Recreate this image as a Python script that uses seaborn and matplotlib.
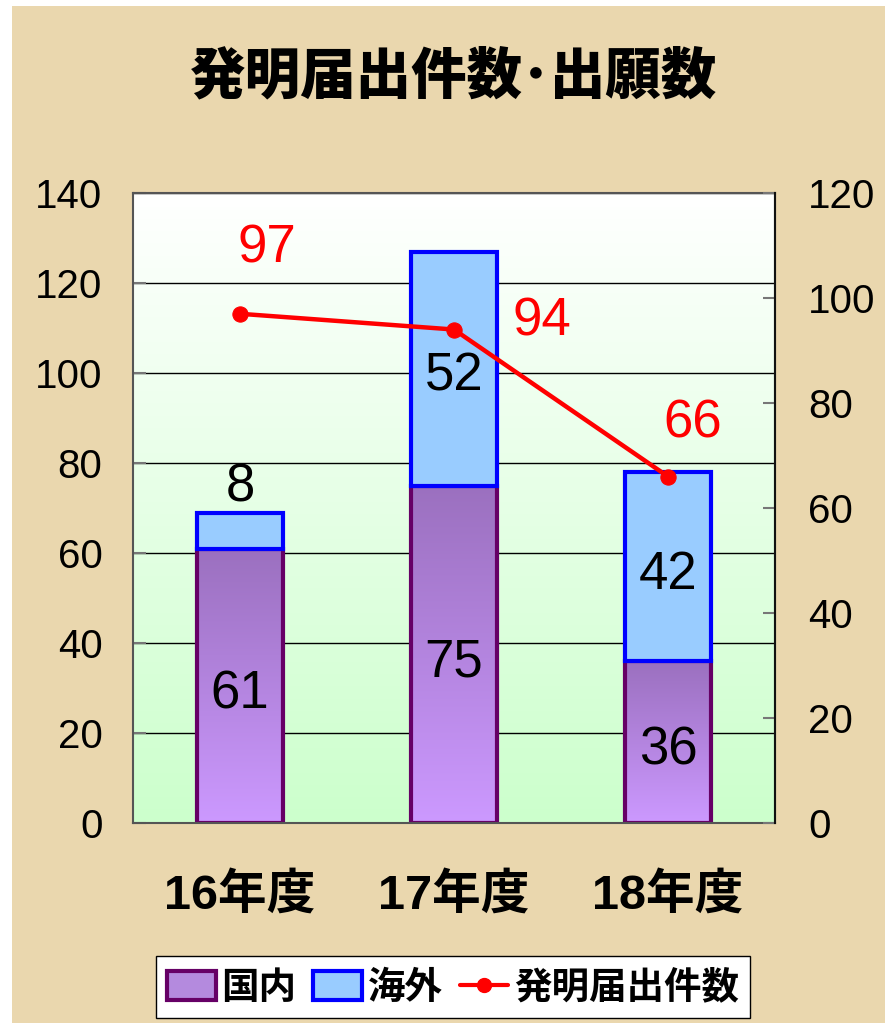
import numpy as np
import matplotlib.pyplot as plt
import seaborn as sns
from matplotlib.patches import Patch, Rectangle
from matplotlib.lines import Line2D
from matplotlib.colors import LinearSegmentedColormap

# data
years = ["16年度", "17年度", "18年度"]
domestic = [61, 75, 36]      # 国内
overseas = [8, 52, 42]       # 海外
filings = [97, 94, 66]       # 発明届出件数 (right axis)
left_ticks = [0, 20, 40, 60, 80, 100, 120, 140]
right_ticks = [0, 20, 40, 60, 80, 100, 120]

sns.set_style("white")
plt.rcParams['font.family'] = ['Liberation Sans', 'Noto Sans CJK JP']
plt.rcParams['text.color'] = 'black'
plt.rcParams['xtick.color'] = 'black'
plt.rcParams['ytick.color'] = 'black'
cjk = ['Noto Sans CJK JP']

fig = plt.figure(figsize=(8.85, 10.23), dpi=100, facecolor='white')
# parchment-like backdrop
fig.patches.append(Rectangle((12 / 885, 0), 1, 1 - 6 / 1023, transform=fig.transFigure,
                             facecolor='#ead7ae', edgecolor='none', zorder=-10))

ax = fig.add_axes([0.1503, 0.1955, 0.7254, 0.6158])
grad = np.linspace(0, 1, 256).reshape(-1, 1)
bg_cmap = LinearSegmentedColormap.from_list('bg', ['#ffffff', '#ccffcc'])
ax.imshow(grad, cmap=bg_cmap, extent=(0, 1, 0, 1), transform=ax.transAxes,
          aspect='auto', origin='upper', zorder=0)

# domestic bars (gradient fill)
sns.barplot(x=years, y=domestic, ax=ax, width=0.4, color='#b48ade', saturation=1,
            edgecolor='#660066', linewidth=3, zorder=2)
bar_cmap = LinearSegmentedColormap.from_list('bar', ['#9b70bf', '#cc99ff'])
for p in list(ax.patches):
    x0, y0, w, h = p.get_x(), p.get_y(), p.get_width(), p.get_height()
    im = ax.imshow(grad, cmap=bar_cmap, extent=(x0, x0 + w, y0, y0 + h),
                   aspect='auto', origin='upper', zorder=2.1)
    im.set_clip_path(p)
    p.set_facecolor('none')
    p.set_zorder(2.2)

# overseas bars stacked on top
pos = np.arange(len(years))
ax.bar(pos, overseas, bottom=domestic, width=0.4, color='#99ccff',
       edgecolor='#0000ff', linewidth=3, zorder=3)

ax.set_xlim(-0.5, 2.5)
ax.set_ylim(0, 140)
ax.set_yticks(left_ticks)
ax.yaxis.grid(True, color='black', lw=1)
ax.xaxis.grid(False)
ax.set_axisbelow(True)
ax.tick_params(axis='y', direction='in', length=9, width=1.5, color='#777',
               labelcolor='black', labelsize=29, pad=22, left=True)
ax.set_xticks(pos)
ax.set_xticklabels(years, fontsize=35, fontweight='bold')
ax.tick_params(axis='x', length=0, pad=36, labelcolor='black')
ax.set_xlabel('')
ax.set_ylabel('')
for s in ax.spines.values():
    s.set_visible(True)
    s.set_color('#555555')
    s.set_linewidth(1.5)

# bar labels
for i in range(len(years)):
    d, o = domestic[i], overseas[i]
    ax.annotate(str(d), (i, d / 2), xytext=(0, -6), textcoords='offset points',
                ha='center', va='center', fontsize=38, zorder=5)
    if o < 15:
        ax.annotate(str(o), (i, d + o), xytext=(0, 8), textcoords='offset points',
                    ha='center', va='baseline', fontsize=38)
    else:
        ax.annotate(str(o), (i, d + o / 2), xytext=(0, -6), textcoords='offset points',
                    ha='center', va='center', fontsize=38, zorder=5)

# invention filings on the right axis
ax2 = ax.twinx()
sns.lineplot(x=pos, y=filings, ax=ax2, color='red', lw=3.2, marker='o',
             markersize=11, markeredgecolor='red')
ax2.set_ylim(0, 120)
ax2.set_yticks(right_ticks)
ax2.set_xlim(-0.5, 2.5)
ax2.set_ylabel('')
ax2.tick_params(axis='y', direction='in', length=9, width=1.5, color='#777',
                labelcolor='black', labelsize=29, pad=24, right=True)
for s in ax2.spines.values():
    s.set_visible(False)
ax2.spines['right'].set_visible(True)
ax2.spines['right'].set_color('#111111')
ax2.spines['right'].set_linewidth(1.5)

offsets = [(19, 47), (63, 6), (18, 38)]
for i, v in enumerate(filings):
    ax2.annotate(str(v), (i, v), xytext=offsets[i], textcoords='offset points',
                 ha='center', va='center', fontsize=38, color='red')

fig.text(0.513, 0.925, '発明届出件数･出願数', fontsize=40, fontweight='heavy',
         family=cjk, ha='center', va='center', color='black')

handles = [Patch(facecolor='#b48ade', edgecolor='#660066', lw=3),
           Patch(facecolor='#99ccff', edgecolor='#0000ff', lw=3),
           Line2D([], [], color='red', lw=3, marker='o', markersize=10)]
leg = fig.legend(handles, ['国内', '海外', '発明届出件数'], loc='lower center',
                 bbox_to_anchor=(0.512, 0.005), borderaxespad=0, ncol=3, frameon=True,
                 fancybox=False, edgecolor='black', framealpha=1, handlelength=1.3,
                 handleheight=0.8, columnspacing=0.45, handletextpad=0.15, borderpad=0.3,
                 prop=dict(family=cjk, weight='bold', size=27))
leg.get_frame().set_linewidth(1)

fig.savefig('out.png', dpi=100, facecolor=fig.get_facecolor())
